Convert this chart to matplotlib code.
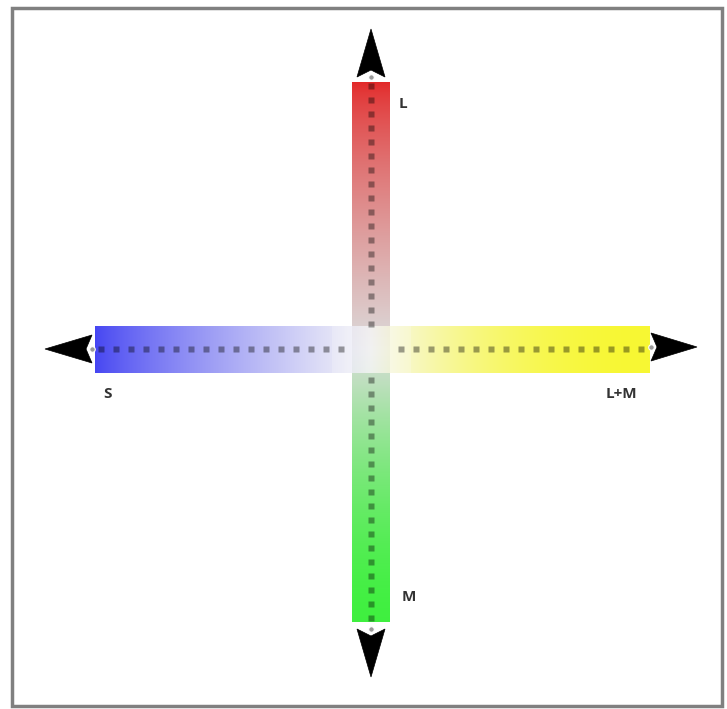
import numpy as np
import matplotlib
matplotlib.use("Agg")
import matplotlib.pyplot as plt
from matplotlib.patches import Polygon, Rectangle

# --- diagram content (pixel space of the 727x709 picture) ---
axis_labels = ['L', 'M', 'S', 'L+M']
label_pos = [(403, 104), (409, 597), (107, 394), (621, 394)]

# opponent axes: colour at each end and the neutral middle
end_colors = {'L': (0.89, 0.16, 0.16), 'M': (0.25, 0.94, 0.25),
              'S': (0.27, 0.27, 0.95), 'L+M': (0.97, 0.97, 0.2)}
# how fast each end fades into the neutral middle (<1 fades quickly)
fade = {'L': 0.75, 'M': 1.6, 'S': 0.8, 'L+M': 2.0}
neutral = (0.86, 0.86, 0.86)
neutral_h = (0.97, 0.97, 0.97)

center = (371, 349)
v_bar = (352, 390, 82, 622)    # x0, x1, y0, y1
h_bar = (95, 650, 326, 373)
dot_step_v = 14
dot_step_h = 15


def gradient(c0, cm, c1, n, t_mid, p0, p1):
    t = np.linspace(0, 1, n)
    out = np.zeros((n, 3))
    a = t <= t_mid
    s = (t[a] / t_mid) ** p0
    out[a] = np.outer(1 - s, c0) + np.outer(s, cm)
    b = ~a
    s = ((1 - t[b]) / (1 - t_mid)) ** p1
    out[b] = np.outer(1 - s, c1) + np.outer(s, cm)
    return out


def arrow(ax, tip, back, half, notch):
    tx, ty = tip
    bx, by = back
    d = np.array([tx - bx, ty - by], float)
    d /= np.hypot(*d)
    p = np.array([-d[1], d[0]])
    pts = [np.array(tip),
           np.array(back) + p * half,
           np.array(back) + d * notch,
           np.array(back) - p * half]
    ax.add_patch(Polygon(pts, closed=True, facecolor='black',
                         edgecolor='black', lw=0.5, zorder=5))
    ax.plot(back[0], back[1], 'o', ms=4, color='#999999', mec='white',
            mew=0.8, zorder=4)


fig = plt.figure(figsize=(7.27, 7.09), dpi=100)
ax = fig.add_axes([0, 0, 1, 1])
ax.set_xlim(0, 727)
ax.set_ylim(709, 0)
ax.axis('off')

# frame
ax.add_patch(Rectangle((12, 8), 710, 698, fill=False, edgecolor='#808080',
                       lw=2.5, zorder=10))

# vertical bar (L at top, M at bottom)
x0, x1, y0, y1 = v_bar
n = y1 - y0
tm = (center[1] - y0) / n
col = gradient(end_colors['L'], neutral, end_colors['M'], n, tm,
               fade['L'], fade['M'])
img = np.repeat(col[:, None, :], 2, axis=1)
ax.imshow(img, extent=(x0, x1, y1, y0), aspect='auto', zorder=1,
          interpolation='bilinear')

# horizontal bar (S at left, L+M at right), slightly see-through in middle
x0, x1, y0, y1 = h_bar
n = x1 - x0
tm = (center[0] - x0) / n
col = gradient(end_colors['S'], neutral_h, end_colors['L+M'], n, tm,
               fade['S'], fade['L+M'])
alpha = np.ones(n)
mid = np.abs(np.arange(n) + x0 - center[0]) < 40
alpha[mid] = 0.8
rgba = np.concatenate([col, alpha[:, None]], axis=1)
img = np.repeat(rgba[None, :, :], 2, axis=0)
ax.imshow(img, extent=(x0, x1, y1, y0), aspect='auto', zorder=2,
          interpolation='bilinear')

# dotted centre lines
ys = np.arange(v_bar[2] + 4, v_bar[3], dot_step_v)
ys = ys[np.abs(ys - center[1]) > 22]
ax.plot(np.full_like(ys, center[0]), ys, 's', ms=4.2, color='black',
        alpha=0.38, mec='none', zorder=3)
xs = np.arange(h_bar[0] + 6, h_bar[1], dot_step_h)
xs = xs[np.abs(xs - center[0]) > 22]
ax.plot(xs, np.full_like(xs, center[1]), 's', ms=4.2, color='black',
        alpha=0.38, mec='none', zorder=3)

# arrowheads
arrow(ax, (371, 29), (371, 77), 14, 7)
arrow(ax, (371, 677), (371, 629), 14, 7)
arrow(ax, (45, 349), (92, 349), 14, 6)
arrow(ax, (697, 347), (651, 347), 14, 6)

for lab, (x, y) in zip(axis_labels, label_pos):
    ax.text(x, y, lab, ha='center', va='center', fontsize=11,
            family=['Open Sans', 'DejaVu Sans'], fontweight='bold',
            color='#333333', zorder=6)

fig.savefig('out.png', dpi=100, facecolor='white')
